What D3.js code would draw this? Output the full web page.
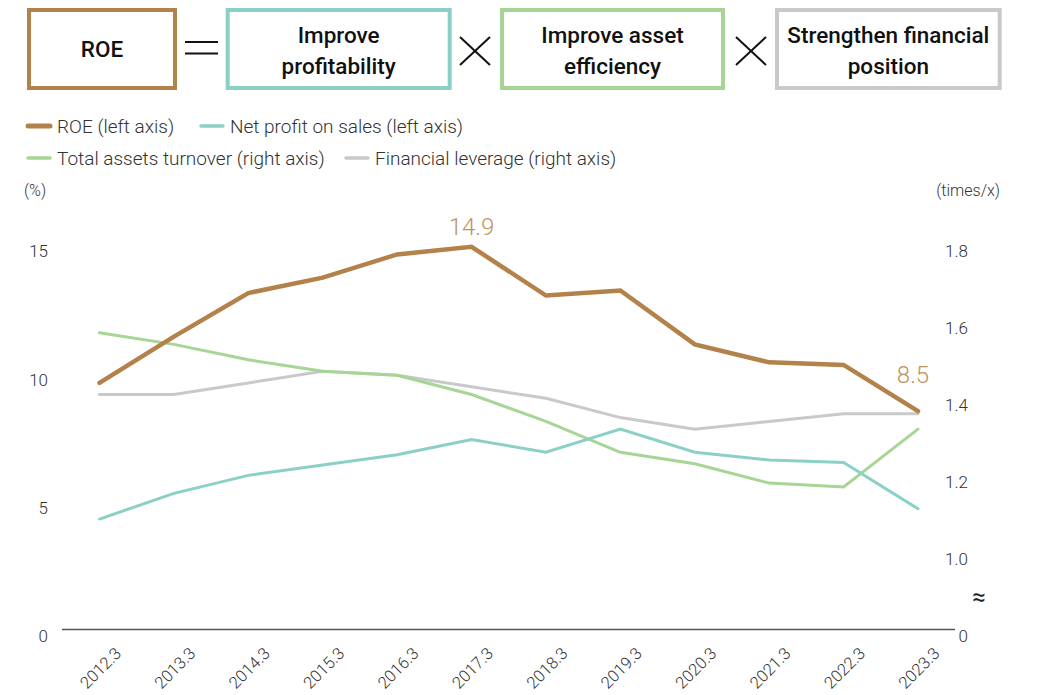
<!DOCTYPE html>
<html>
<head>
<meta charset="utf-8">
<script src="https://cdn.jsdelivr.net/npm/d3@7"></script>
<style>
  body { margin: 0; background: #fff; }
  svg { display: block; font-family: Roboto, "Noto Sans", sans-serif; }
</style>
</head>
<body>
<svg width="1039" height="695"></svg>
<script>
// fiscal years
var years = ["2012.3", "2013.3", "2014.3", "2015.3", "2016.3", "2017.3",
             "2018.3", "2019.3", "2020.3", "2021.3", "2022.3", "2023.3"];

// left axis (%)
var roe = [9.6, 11.4, 13.1, 13.7, 14.6, 14.9, 13.0, 13.2, 11.1, 10.4, 10.3, 8.5];
var netProfit = [4.3, 5.3, 6.0, 6.4, 6.8, 7.4, 6.9, 7.8, 6.9, 6.6, 6.5, 4.7];

// right axis (times)
var assetTurnover = [1.57, 1.54, 1.50, 1.47, 1.46, 1.41, 1.34, 1.26, 1.23, 1.18, 1.17, 1.32];
var leverage = [1.41, 1.41, 1.44, 1.47, 1.46, 1.43, 1.40, 1.35, 1.32, 1.34, 1.36, 1.36];

var leftTicks = [0, 5, 10, 15];
var rightTicks = [1.0, 1.2, 1.4, 1.6, 1.8];

var boxes = ["ROE", "Improve\nprofitability", "Improve asset\nefficiency", "Strengthen financial\nposition"];

var svg = d3.select("svg");

var cBrown = "#b3824a",
    cTeal = "#8bd0c6",
    cGreen = "#a7d595",
    cGray = "#c9c9c9",
    textCol = "#333";

// ---- header boxes ----
var boxX = [29, 227.7, 502, 777],
    boxW = [146, 222, 221, 222.7],
    boxCol = [cBrown, cTeal, cGreen, cGray];

var hb = svg.append("g").attr("class", "header");
boxes.forEach(function(t, i) {
    hb.append("rect")
        .attr("x", boxX[i]).attr("y", 10)
        .attr("width", boxW[i]).attr("height", 78)
        .attr("fill", "#fff")
        .attr("stroke", boxCol[i])
        .attr("stroke-width", 4);
    var lines = t.split("\n");
    var txt = hb.append("text")
        .attr("x", boxX[i] + boxW[i] / 2)
        .attr("text-anchor", "middle")
        .attr("font-size", 22.5)
        .attr("font-weight", 500)
        .attr("fill", "#111");
    lines.forEach(function(l, j) {
        txt.append("tspan")
            .attr("x", boxX[i] + boxW[i] / 2)
            .attr("y", lines.length == 1 ? 57 : 43 + j * 31)
            .text(l);
    });
});

// = sign
hb.append("line").attr("x1", 185).attr("x2", 218).attr("y1", 42).attr("y2", 42);
hb.append("line").attr("x1", 185).attr("x2", 218).attr("y1", 53.5).attr("y2", 53.5);
// x signs
[475, 751].forEach(function(cx) {
    hb.append("line").attr("x1", cx - 15).attr("x2", cx + 15).attr("y1", 37).attr("y2", 65);
    hb.append("line").attr("x1", cx - 15).attr("x2", cx + 15).attr("y1", 65).attr("y2", 37);
});
hb.selectAll("line").attr("stroke", "#111").attr("stroke-width", 2);

// ---- legend ----
var legendItems = [
    { name: "ROE (left axis)", color: cBrown, w: 5, x: 27, y: 126 },
    { name: "Net profit on sales (left axis)", color: cTeal, w: 3.5, x: 200, y: 126 },
    { name: "Total assets turnover (right axis)", color: cGreen, w: 3.5, x: 27, y: 158 },
    { name: "Financial leverage (right axis)", color: cGray, w: 3.5, x: 345, y: 158 }
];
var lg = svg.append("g").attr("class", "legend")
    .selectAll("g").data(legendItems).enter().append("g")
    .attr("transform", function(d) { return "translate(" + d.x + "," + d.y + ")"; });
lg.append("line")
    .attr("x1", 1).attr("x2", 23)
    .attr("stroke", function(d) { return d.color; })
    .attr("stroke-width", function(d) { return d.w; })
    .attr("stroke-linecap", "round");
lg.append("text")
    .attr("x", 30).attr("dy", "0.35em")
    .attr("font-size", 19).attr("font-weight", 300)
    .attr("fill", textCol)
    .text(function(d) { return d.name; });

// ---- scales ----
var x = d3.scalePoint().domain(years).range([99.5, 918]);
var yL = d3.scaleLinear().domain([0, 15]).range([629.5, 244.2]);
var yR = d3.scaleLinear().domain([1.0, 1.8]).range([yL(3), yL(15)]);

// unit labels
svg.append("text").attr("x", 24).attr("y", 196)
    .attr("font-size", 16).attr("font-weight", 300).attr("fill", textCol).text("(%)");
svg.append("text").attr("x", 1000).attr("y", 196).attr("text-anchor", "end")
    .attr("font-size", 16).attr("font-weight", 300).attr("fill", textCol).text("(times/x)");

// baseline
svg.append("line")
    .attr("x1", 62).attr("x2", 955)
    .attr("y1", yL(0)).attr("y2", yL(0))
    .attr("stroke", "#555").attr("stroke-width", 1.5);

// left axis
var gl = svg.append("g")
    .attr("transform", "translate(52,0)")
    .call(d3.axisLeft(yL).tickValues(leftTicks).tickSize(0).tickPadding(4));
gl.select(".domain").remove();

// right axis, labels right-aligned
var gr = svg.append("g")
    .attr("transform", "translate(941,0)")
    .call(d3.axisRight(yR).tickValues(rightTicks).tickFormat(d3.format(".1f")).tickSize(0).tickPadding(4));
gr.select(".domain").remove();
gr.append("g").attr("class", "tick")
    .attr("transform", "translate(0," + yL(0) + ")")
    .append("text").attr("dy", "0.32em").text("0");
gr.selectAll(".tick text").attr("x", 27).attr("text-anchor", "end");

svg.selectAll(".tick text")
    .attr("font-family", "Roboto, sans-serif")
    .attr("font-size", 17)
    .attr("font-weight", 300)
    .attr("fill", textCol)
    .attr("transform", "translate(0,7)");

// break mark on right axis
svg.append("text")
    .attr("x", 979).attr("y", 597)
    .attr("text-anchor", "middle").attr("dy", "0.35em")
    .attr("font-size", 24).attr("fill", "#222")
    .text("\u2248");

// x labels
svg.append("g").selectAll("text")
    .data(years).enter().append("text")
    .attr("transform", function(d) { return "translate(" + (x(d) + 1) + ",668) rotate(-45)"; })
    .attr("text-anchor", "middle")
    .attr("dy", "0.35em")
    .attr("font-size", 16.5).attr("font-weight", 300)
    .attr("fill", textCol)
    .text(function(d) { return d; });

// ---- lines ----
function drawLine(values, yScale, color, width) {
    var line = d3.line()
        .x(function(d, i) { return x(years[i]); })
        .y(function(d) { return yScale(d); });
    svg.append("path")
        .datum(values)
        .attr("d", line)
        .attr("fill", "none")
        .attr("stroke", color)
        .attr("stroke-width", width)
        .attr("stroke-linecap", "round")
        .attr("stroke-linejoin", "miter");
}

drawLine(leverage, yR, cGray, 3);
drawLine(assetTurnover, yR, cGreen, 3);
drawLine(netProfit, yL, cTeal, 3);
drawLine(roe, yL, cBrown, 4.5);

// ROE annotations
var notes = [5, 11];
svg.append("g").selectAll("text")
    .data(notes).enter().append("text")
    .attr("x", function(i) { return x(years[i]) + (i == 11 ? -5 : 0); })
    .attr("y", function(i) { return yL(roe[i]) - (i == 11 ? 28 : 12); })
    .attr("text-anchor", "middle")
    .attr("font-size", 24).attr("font-weight", 300)
    .attr("fill", "#c0935f")
    .text(function(i) { return d3.format(".1f")(roe[i]); });
</script>
</body>
</html>
